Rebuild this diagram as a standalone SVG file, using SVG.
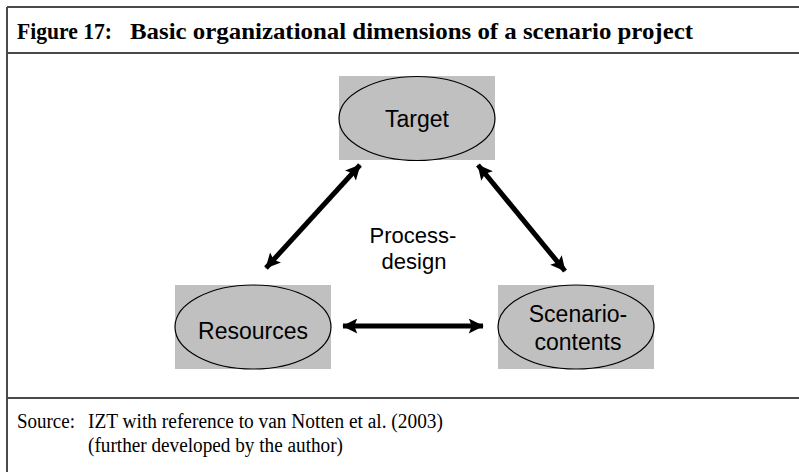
<svg xmlns="http://www.w3.org/2000/svg" width="799" height="472" viewBox="0 0 799 472">
<style>
.frame{stroke:#4a4a4a;stroke-width:2;fill:none}
.box{fill:#c0c0c0}
.ell{fill:#c0c0c0;stroke:#000;stroke-width:1.2}
.lbl{font-family:"Liberation Sans",Arial,sans-serif;font-size:23px;fill:#000;text-anchor:middle}
.title{font-family:"Liberation Serif","Times New Roman",serif;font-size:24px;font-weight:bold;fill:#000}
.src{font-family:"Liberation Serif","Times New Roman",serif;font-size:20px;fill:#000}
.arr{stroke:#000;stroke-width:5;fill:none;marker-start:url(#ah);marker-end:url(#ah)}
</style>
<defs>
<marker id="ah" viewBox="0 0 10 10" refX="9.5" refY="5" markerWidth="3.2" markerHeight="3" orient="auto-start-reverse" markerUnits="strokeWidth">
<path d="M0,0 L10,5 L0,10 L2,5 Z" fill="#000"/>
</marker>
</defs>
<rect width="799" height="472" fill="#fff"/>
<g id="frame">
<line class="frame" x1="7" y1="7" x2="799" y2="7"/>
<line class="frame" x1="7" y1="7" x2="7" y2="472"/>
<line class="frame" x1="7" y1="53" x2="799" y2="53"/>
<line class="frame" x1="7" y1="398" x2="799" y2="398"/>
</g>
<g id="title">
<text class="title" x="17" y="39" textLength="95" lengthAdjust="spacingAndGlyphs">Figure 17:</text>
<text class="title" x="130" y="39" textLength="563" lengthAdjust="spacingAndGlyphs">Basic organizational dimensions of a scenario project</text>
</g>
<g id="connectors">
<line class="arr" x1="360" y1="165" x2="266" y2="268"/>
<line class="arr" x1="478" y1="165" x2="565" y2="271"/>
<line class="arr" x1="343" y1="326" x2="483" y2="326"/>
</g>
<g id="target">
<rect class="box" x="339" y="76" width="156" height="84"/>
<ellipse class="ell" cx="417" cy="118.5" rx="78" ry="42"/>
<text class="lbl" x="417" y="127">Target</text>
</g>
<g id="resources">
<rect class="box" x="175" y="285" width="156" height="84"/>
<ellipse class="ell" cx="253" cy="327" rx="78" ry="42"/>
<text class="lbl" x="253" y="339">Resources</text>
</g>
<g id="scenario">
<rect class="box" x="498" y="285" width="156" height="84"/>
<ellipse class="ell" cx="576" cy="327" rx="78" ry="42"/>
<text class="lbl" x="578" y="322">Scenario-</text>
<text class="lbl" x="578" y="350">contents</text>
</g>
<g id="process">
<text class="lbl" x="413" y="243" style="font-size:22px">Process-</text>
<text class="lbl" x="414" y="269" style="font-size:22px">design</text>
</g>
<g id="source">
<text class="src" x="17" y="428" textLength="58" lengthAdjust="spacingAndGlyphs">Source:</text>
<text class="src" x="88" y="428" textLength="355" lengthAdjust="spacingAndGlyphs">IZT with reference to van Notten et al. (2003)</text>
<text class="src" x="88" y="452" textLength="255" lengthAdjust="spacingAndGlyphs">(further developed by the author)</text>
</g>
</svg>
